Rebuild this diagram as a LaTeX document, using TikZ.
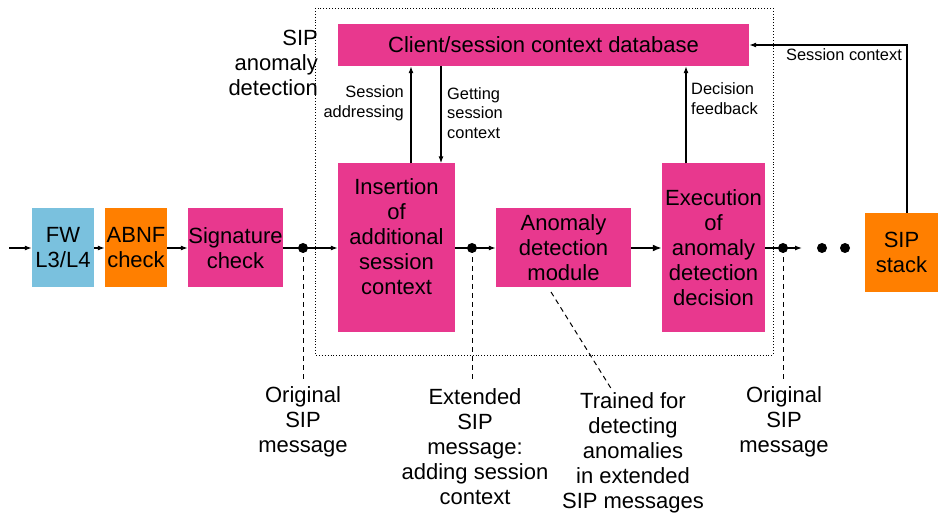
\documentclass[tikz,border=0pt]{standalone}
\usepackage{fontspec}
\setmainfont{Liberation Sans}
\usetikzlibrary{arrows.meta}
\definecolor{fwblue}{RGB}{122,193,222}
\definecolor{orng}{RGB}{255,127,0}
\definecolor{mag}{RGB}{232,56,142}
\newcommand\bigf{\fontsize{22}{25}\selectfont}
\newcommand\smlf{\fontsize{16.4}{19.5}\selectfont}
\tikzset{
  blk/.style={inner sep=0pt, align=center, font=\bigf},
  lbl/.style={inner sep=0pt, align=center, font=\bigf},
  sml/.style={inner sep=0pt, font=\smlf},
  arr/.style={-{Latex[length=7pt,width=5pt]}, line width=1.2pt},
  ln/.style={line width=1.2pt},
  thk/.style={line width=2.4pt},
  dsh/.style={dash pattern=on 5pt off 4pt, line width=1pt},
  jdot/.style={circle, fill=black, inner sep=0pt, minimum size=10pt}
}
\begin{document}
\begin{tikzpicture}[x=1pt,y=-1pt]
\useasboundingbox (0,0) rectangle (939,518);
% frame
\draw[dotted, line width=0.9pt] (315,8) rectangle (773,355);
% blocks
\node[blk, fill=fwblue, minimum width=62pt, minimum height=79pt] (fw) at (63,248) {FW\\L3/L4};
\node[blk, fill=orng, minimum width=62pt, minimum height=79pt] (abnf) at (136,248) {ABNF\\check};
\node[blk, fill=mag, minimum width=95pt, minimum height=79pt] (sig) at (235.5,248) {Signature\\check};
\node[blk, fill=mag, minimum width=411pt, minimum height=42pt] (db) at (543.5,45) {Client/session context database};
\node[blk, fill=mag, minimum width=117pt, minimum height=169pt] (ins) at (396.5,248) {};
\node[blk] (instxt) at (396.5,237) {Insertion\\of\\additional\\session\\context};
\node[blk, fill=mag, minimum width=135pt, minimum height=79pt] (anom) at (563.5,248) {Anomaly\\detection\\module};
\node[blk, fill=mag, minimum width=103pt, minimum height=169pt] (exec) at (713.5,248) {Execution\\of\\anomaly\\detection\\decision};
\node[blk, fill=orng, minimum width=73pt, minimum height=79pt] (sip) at (901.5,252.5) {SIP\\stack};
% side title
\node[lbl, align=right, anchor=east] (title) at (318,63) {SIP\\anomaly\\detection};
% junction dots
\node[jdot] (d1) at (303,248) {};
\node[jdot] (d2) at (472,248) {};
\node[jdot] (d3) at (783,248) {};
\node[jdot] (e1) at (822,248) {};
\node[jdot] (e2) at (845,248) {};
\coordinate (start) at (9,248);
\coordinate (tip) at (802,248);
% main flow
\draw[arr] (start) -- (fw.west);
\draw[arr] (fw.east) -- (abnf.west);
\draw[arr] (abnf.east) -- (sig.west);
\draw[ln] (sig.east) -- (d1.center);
\draw[arr] (d1.center) -- (ins.west);
\draw[ln] (ins.east) -- (d2.center);
\draw[arr] (d2.center) -- (anom.west);
\draw[thk, -{Latex[length=9pt,width=7pt]}] (anom.east) -- (exec.west);
\draw[thk] (exec.east) -- (d3.center);
\draw[arr] (d3.center) -- (tip);
% vertical arrows to/from db
\draw[arr] ([xshift=14.5pt]ins.north) -- ([xshift=14.5pt]ins.north |- db.south);
\draw[arr] ([xshift=44.5pt]ins.north |- db.south) -- ([xshift=44.5pt]ins.north);
\draw[arr] ([xshift=-27.5pt]exec.north) -- ([xshift=-27.5pt]exec.north |- db.south);
\draw[arr] ([xshift=5.5pt]sip.north) |- (db.east);
% small labels
\node[sml, align=right, anchor=east] (lsa) at (404,103.5) {Session\\addressing};
\node[sml, align=left, anchor=west] (lgs) at (447,113) {Getting\\session\\context};
\node[sml, align=left, anchor=west] (ldf) at (691,98.5) {Decision\\feedback};
\node[sml] (lsc) at (844,55) {Session context};
% bottom labels
\node[lbl] (o1) at (303,422) {Original\\SIP\\message};
\node[lbl] (ext) at (475,446.5) {Extended\\SIP\\message:\\adding session\\context};
\node[lbl] (trn) at (633,453) {Trained for\\detecting\\anomalies\\in extended\\SIP messages};
\node[lbl] (o2) at (784,421.5) {Original\\SIP\\message};
% dashed leaders
\coordinate (c1) at (303,382);
\coordinate (c2) at (472,382);
\coordinate (c3) at (783,382);
\coordinate (a1) at (551,292);
\coordinate (a2) at (612,390);
\draw[dsh] (d1.center) -- (c1);
\draw[dsh] (d2.center) -- (c2);
\draw[dsh] (d3.center) -- (c3);
\draw[dsh] (a1) -- (a2);
\end{tikzpicture}
\end{document}
